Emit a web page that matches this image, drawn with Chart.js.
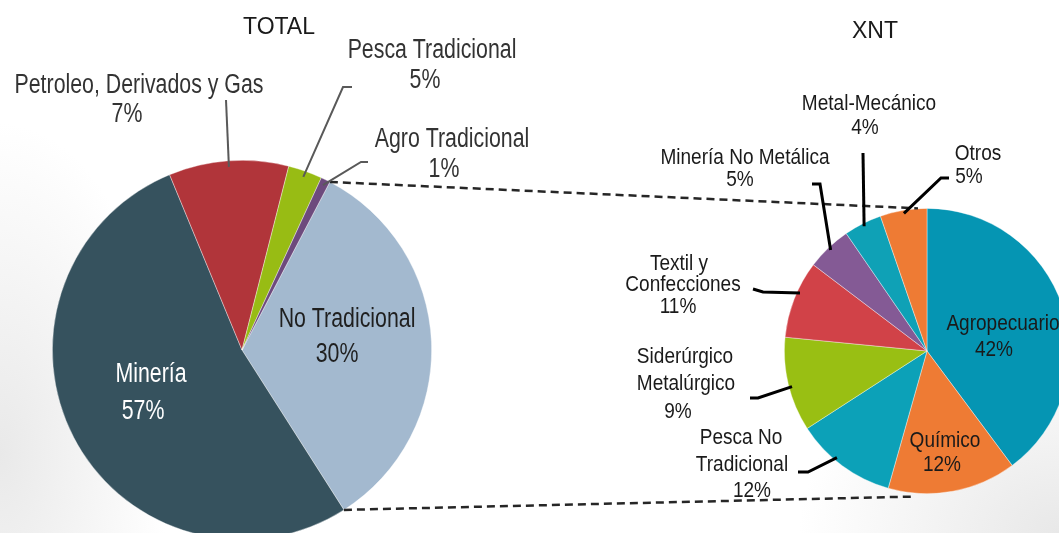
<!DOCTYPE html>
<html>
<head>
<meta charset="utf-8">
<script src="https://cdn.jsdelivr.net/npm/chart.js@4.4.1/dist/chart.umd.min.js"></script>
<style>
  html, body { margin: 0; padding: 0; }
  body {
    width: 1059px; height: 533px; overflow: hidden; position: relative;
    background:
      radial-gradient(ellipse 260px 200px at 100% 100%, #e8e8e8 0%, rgba(255,255,255,0) 100%),
      radial-gradient(ellipse 170px 330px at 0% 85%, #e9e9e9 0%, rgba(255,255,255,0) 100%),
      #ffffff;
  }
  canvas { position: absolute; }
  #totalChart { left: 52px; top: 160px; }
  #xntChart { left: 784px; top: 208px; }
  #overlay { left: 0; top: 0; pointer-events: none; }
</style>
</head>
<body>
<canvas id="totalChart" width="380" height="380"></canvas>
<canvas id="xntChart" width="286" height="286"></canvas>
<canvas id="overlay" width="1059" height="533"></canvas>
<script>
// slice sizes as drawn in the picture, percent texts as printed on it
const totalCategories = ['No Tradicional', 'Minería', 'Petroleo, Derivados y Gas', 'Pesca Tradicional', 'Agro Tradicional'];
const totalValues = [33.3, 52.8, 10.2, 2.9, 0.8];
const totalPercents = ['30%', '57%', '7%', '5%', '1%'];
const totalColors = ['#A3B9CF', '#36525E', '#B1353A', '#98BC14', '#6D4A7D'];

const xntCategories = ['Agropecuario', 'Químico', 'Pesca No Tradicional', 'Siderúrgico Metalúrgico', 'Textil y Confecciones', 'Minería No Metálica', 'Metal-Mecánico', 'Otros'];
const xntValues = [39.9, 14.6, 11.5, 10.7, 8.8, 5.1, 4.3, 5.3];
const xntPercents = ['42%', '12%', '12%', '9%', '11%', '5%', '4%', '5%'];
const xntColors = ['#0595B3', '#EE7B34', '#0CA1B8', '#99BF13', '#D14248', '#845A95', '#0FA1B6', '#EE7B34'];

const FONT = '"Liberation Sans", Arial, sans-serif';

function pieOptions(rotation) {
  return {
    responsive: false,
    animation: false,
    rotation: rotation,
    layout: { padding: 0 },
    plugins: { legend: { display: false }, tooltip: { enabled: false } }
  };
}

const totalChart = new Chart(document.getElementById('totalChart'), {
  type: 'pie',
  data: {
    labels: totalCategories,
    datasets: [{ data: totalValues, backgroundColor: totalColors, borderColor: 'rgba(255,255,255,0.5)', borderWidth: 0.75 }]
  },
  options: pieOptions(27.6)
});

const xntChart = new Chart(document.getElementById('xntChart'), {
  type: 'pie',
  data: {
    labels: xntCategories,
    datasets: [{ data: xntValues, backgroundColor: xntColors, borderColor: 'rgba(255,255,255,0.5)', borderWidth: 0.75 }]
  },
  options: pieOptions(0)
});

// label layout: name split into lines + percent, one position per line
const totalLabels = [
  { idx: 2, lines: ['Petroleo, Derivados y Gas'], pos: [[139, 83], [127, 112]], color: '#333333',
    leader: { from: [[226, 100]], frac: 0.5 } },
  { idx: 3, lines: ['Pesca Tradicional'], pos: [[432, 48], [425, 78]], color: '#333333',
    leader: { from: [[352, 87], [343, 87]], frac: 0.5 } },
  { idx: 4, lines: ['Agro Tradicional'], pos: [[452, 137], [444, 167]], color: '#333333',
    leader: { from: [[368, 162], [361, 162]], frac: 0.5 } },
  { idx: 0, lines: ['No Tradicional'], pos: [[347, 317], [337, 352]], color: '#1f1f1f' },
  { idx: 1, lines: ['Minería'], pos: [[151, 372], [143, 409]], color: '#ffffff' }
];

const xntLabels = [
  { idx: 0, lines: ['Agropecuario'], pos: [[1003, 322], [994, 348]] },
  { idx: 1, lines: ['Químico'], pos: [[945, 439], [942, 463]] },
  { idx: 2, lines: ['Pesca No', 'Tradicional'], pos: [[741, 436], [742, 463], [752, 489]],
    leader: { from: [[798, 472], [808, 472]], frac: 0.59 } },
  { idx: 3, lines: ['Siderúrgico', 'Metalúrgico'], pos: [[685, 355], [686, 382], [678, 410]],
    leader: { from: [[750, 398], [758, 398]], frac: 0.47 } },
  { idx: 4, lines: ['Textil y', 'Confecciones'], pos: [[679, 262], [683, 283], [678, 305]],
    leader: { from: [[753, 289], [763, 292]], frac: 0.6 } },
  { idx: 5, lines: ['Minería No Metálica'], pos: [[745, 156], [740, 178]],
    leader: { from: [[812, 184], [820, 184]], frac: 0.5 } },
  { idx: 6, lines: ['Metal-Mecánico'], pos: [[869, 102], [865, 126]],
    leader: { from: [[863, 153]], frac: 0.5 } },
  { idx: 7, lines: ['Otros'], pos: [[978, 152], [969, 175]],
    leader: { from: [[949, 178], [941, 178]], frac: 0.5 } }
];

function slicePoint(chart, idx, frac, inset) {
  const arc = chart.getDatasetMeta(0).data[idx];
  const cv = chart.canvas;
  const a = arc.startAngle + (arc.endAngle - arc.startAngle) * frac;
  const r = arc.outerRadius - inset;
  return [cv.offsetLeft + arc.x + Math.cos(a) * r, cv.offsetTop + arc.y + Math.sin(a) * r];
}

// narrow look: Liberation Sans squeezed horizontally
function drawText(ctx, text, x, y, size, sx, color) {
  ctx.save();
  ctx.translate(x, y + size * 0.358);
  ctx.scale(sx, 1);
  ctx.font = size + 'px ' + FONT;
  ctx.fillStyle = color;
  ctx.textAlign = 'center';
  ctx.textBaseline = 'alphabetic';
  ctx.fillText(text, 0, 0);
  ctx.restore();
}

function drawLabels(ctx, chart, labels, percents, size, sx, lineColor, lineWidth, inset) {
  labels.forEach(l => {
    if (l.leader) {
      const end = slicePoint(chart, l.idx, l.leader.frac, inset);
      ctx.beginPath();
      ctx.strokeStyle = lineColor;
      ctx.lineWidth = lineWidth;
      l.leader.from.forEach((p, i) => i === 0 ? ctx.moveTo(p[0], p[1]) : ctx.lineTo(p[0], p[1]));
      ctx.lineTo(end[0], end[1]);
      ctx.stroke();
    }
    const texts = l.lines.concat([percents[l.idx]]);
    texts.forEach((t, i) => drawText(ctx, t, l.pos[i][0], l.pos[i][1], size, sx, l.color || '#1a1a1a'));
  });
}

function drawOverlay() {
  const ctx = document.getElementById('overlay').getContext('2d');
  ctx.clearRect(0, 0, 1059, 533);

  // dashed connectors: No Tradicional edges -> XNT pie top / bottom
  const p1 = slicePoint(totalChart, 0, 0, 0);
  const p2 = slicePoint(totalChart, 0, 1, 0);
  const arc = xntChart.getDatasetMeta(0).data[0];
  const cx = xntChart.canvas.offsetLeft + arc.x;
  const cy = xntChart.canvas.offsetTop + arc.y;
  const r = arc.outerRadius;
  ctx.save();
  ctx.strokeStyle = '#262626';
  ctx.lineWidth = 2.5;
  ctx.setLineDash([8, 5]);
  ctx.beginPath();
  ctx.moveTo(p1[0], p1[1]);
  ctx.lineTo(cx - 9, cy - r);
  ctx.moveTo(p2[0], p2[1]);
  ctx.lineTo(cx - 16, cy + r + 3);
  ctx.stroke();
  ctx.restore();

  drawText(ctx, 'TOTAL', 279, 26, 23, 1, '#1a1a1a');
  drawText(ctx, 'XNT', 875, 30, 23, 1, '#1a1a1a');

  drawLabels(ctx, totalChart, totalLabels, totalPercents, 27, 0.79, '#595959', 2, 6);
  drawLabels(ctx, xntChart, xntLabels, xntPercents, 22, 0.865, '#000000', 3, 3);
}

drawOverlay();
</script>
</body>
</html>
